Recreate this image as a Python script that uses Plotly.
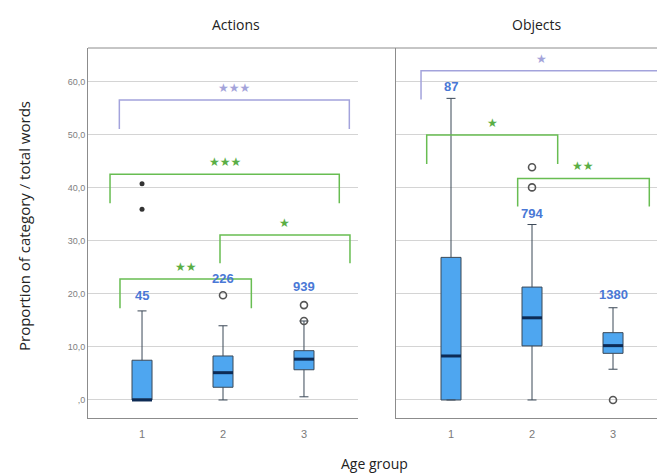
import plotly.graph_objects as go

# ---- data -------------------------------------------------------------
age_groups = [1, 2, 3]
tick_labels_y = [",0", "10,0", "20,0", "30,0", "40,0", "50,0", "60,0"]
tick_vals_y = [0, 10, 20, 30, 40, 50, 60]

# Actions: five-number summaries per age group
actions_q1 = [0.0, 2.4, 5.7]
actions_median = [0.0, 5.15, 7.7]
actions_q3 = [7.5, 8.3, 9.3]
actions_low = [0.0, 0.0, 0.6]
actions_high = [16.8, 14.0, 14.9]
actions_outliers = [[], [19.75], [14.9, 17.9]]
actions_extremes = [[40.8, 36.0], [], []]
actions_ids = ["45", "226", "939"]
actions_id_y = [19.8, 23.0, 21.4]

# Objects: five-number summaries per age group
objects_q1 = [0.0, 10.2, 8.8]
objects_median = [8.3, 15.5, 10.25]
objects_q3 = [26.9, 21.3, 12.7]
objects_low = [0.0, 0.0, 5.8]
objects_high = [56.9, 33.1, 17.4]
objects_outliers = [[], [40.1, 43.9], [0.0]]
objects_extremes = [[], [], []]
objects_ids = ["87", "794", "1380"]
objects_id_y = [59.2, 35.2, 19.9]

# significance brackets: (x_left, x_right, top, leg_bottom, stars, kind)
actions_brackets = [
    (0.72, 3.56, 56.6, 51.1, "★★★", "purple"),
    (0.605, 3.436, 42.6, 37.1, "★★★", "green"),
    (1.963, 3.568, 31.1, 25.8, "★", "green"),
    (0.728, 2.35, 22.8, 17.3, "★★", "green"),
]
objects_brackets = [
    (0.63, 3.593, 62.1, 56.7, "★", "purple"),
    (0.70, 2.317, 50.0, 44.5, "★", "green"),
    (1.823, 3.448, 41.8, 36.5, "★★", "green"),
]

# ---- styling ----------------------------------------------------------
W, H = 657, 475
BOX_FILL = "#4ea6f0"
BOX_LINE = "#3b4857"
MEDIAN = "#0d2b55"
ID_COLOR = "#4a78d6"
BRACKET = {"green": "#68bd52", "purple": "#a3a3dc"}
STAR = {"green": "#5aae45", "purple": "#a4a4da"}
BOX_W = 0.247


def px_x(p):
    return p / W


def px_y(p):
    return 1 - p / H


fig = go.Figure()


def add_panel(xa, ya, q1, med, q3, lo, hi, outl, extr, ids, id_y, brackets):
    for i, g in enumerate(age_groups):
        fig.add_trace(go.Box(
            x=[g], q1=[q1[i]], median=[med[i]], q3=[q3[i]],
            lowerfence=[lo[i]], upperfence=[hi[i]],
            width=BOX_W, whiskerwidth=0.45, boxpoints=False,
            fillcolor=BOX_FILL, line=dict(color=BOX_LINE, width=1),
            xaxis=xa, yaxis=ya, showlegend=False, hoverinfo="skip",
        ))
        fig.add_trace(go.Scatter(
            x=[g - BOX_W / 2, g + BOX_W / 2], y=[med[i], med[i]],
            mode="lines", line=dict(color=MEDIAN, width=3),
            xaxis=xa, yaxis=ya, showlegend=False, hoverinfo="skip",
        ))
        if outl[i]:
            fig.add_trace(go.Scatter(
                x=[g] * len(outl[i]), y=outl[i], mode="markers",
                marker=dict(symbol="circle-open", size=7, color="#555555",
                            line=dict(width=1.6)),
                xaxis=xa, yaxis=ya, showlegend=False, hoverinfo="skip",
                cliponaxis=False,
            ))
        if extr[i]:
            fig.add_trace(go.Scatter(
                x=[g] * len(extr[i]), y=extr[i], mode="markers",
                marker=dict(symbol="circle", size=5, color="#333333"),
                xaxis=xa, yaxis=ya, showlegend=False, hoverinfo="skip",
            ))
        fig.add_annotation(
            x=g, y=id_y[i], xref=xa, yref=ya, text="<b>%s</b>" % ids[i],
            showarrow=False, xanchor="center", yanchor="middle",
            font=dict(family="Liberation Sans", size=13, color=ID_COLOR),
        )
    for (xl, xr, top, leg, stars, kind) in brackets:
        fig.add_trace(go.Scatter(
            x=[xl, xl, xr, xr], y=[leg, top, top, leg], mode="lines",
            line=dict(color=BRACKET[kind], width=1.5),
            xaxis=xa, yaxis=ya, showlegend=False, hoverinfo="skip",
        ))
        fig.add_annotation(
            x=(xl + xr) / 2, y=top, xref=xa, yref=ya, text=stars,
            showarrow=False, xanchor="center", yanchor="middle", yshift=12,
            font=dict(family="DejaVu Sans", size=12, color=STAR[kind]),
        )


add_panel("x", "y", actions_q1, actions_median, actions_q3, actions_low,
          actions_high, actions_outliers, actions_extremes, actions_ids,
          actions_id_y, actions_brackets)
add_panel("x2", "y2", objects_q1, objects_median, objects_q3, objects_low,
          objects_high, objects_outliers, objects_extremes, objects_ids,
          objects_id_y, objects_brackets)

y_dom = [px_y(418), px_y(48)]
y_range = [-3.4, 66.4]
grid = "#d4d4d4"
frame = "#8c8c8c"

common_x = dict(
    tickmode="array", tickvals=age_groups, ticktext=[str(g) for g in age_groups],
    showgrid=False, zeroline=False, showline=True, linecolor=frame,
    linewidth=1, ticks="", ticklabelstandoff=6,
    tickfont=dict(family="Liberation Sans", size=11, color="#7a7a7a"),
)

fig.update_layout(
    width=W, height=H, margin=dict(l=0, r=0, t=0, b=0),
    paper_bgcolor="white", plot_bgcolor="white",
    xaxis=dict(domain=[px_x(88), px_x(358)], range=[0.333, 3.667],
               anchor="y", **common_x),
    xaxis2=dict(domain=[px_x(396), 1.0], range=[0.321, 3.543],
                anchor="y2", **common_x),
    yaxis=dict(domain=y_dom, range=y_range, anchor="x",
               tickmode="array", tickvals=tick_vals_y, ticktext=tick_labels_y,
               showgrid=True, gridcolor=grid, gridwidth=1, zeroline=False,
               showline=True, linecolor=frame, linewidth=1, ticks="",
               tickfont=dict(family="Liberation Sans", size=9, color="#808080")),
    yaxis2=dict(domain=y_dom, range=y_range, anchor="x2",
                tickmode="array", tickvals=tick_vals_y,
                showticklabels=False, showgrid=True, gridcolor=grid,
                gridwidth=1, zeroline=False, showline=True, linecolor=frame,
                linewidth=1, ticks=""),
    showlegend=False,
)

# shared top edge of the frame
fig.add_shape(type="line", xref="paper", yref="paper",
              x0=px_x(88), x1=1.0, y0=px_y(48), y1=px_y(48),
              line=dict(color=frame, width=1))

title_font = dict(family="Open Sans", size=14, color="#222222")
for label, cx, cy in [("Actions", 236, 25), ("Objects", 537, 25),
                      ("Age group", 374, 463)]:
    fig.add_annotation(x=px_x(cx), y=px_y(cy), xref="paper", yref="paper",
                       text=label, showarrow=False, xanchor="center",
                       yanchor="middle", font=title_font)
fig.add_annotation(x=px_x(24), y=px_y(226), xref="paper", yref="paper",
                   text="Proportion of category / total words",
                   showarrow=False, textangle=-90, xanchor="center",
                   yanchor="middle",
                   font=dict(family="Open Sans", size=15, color="#222222"))

fig.write_html("out.html")
